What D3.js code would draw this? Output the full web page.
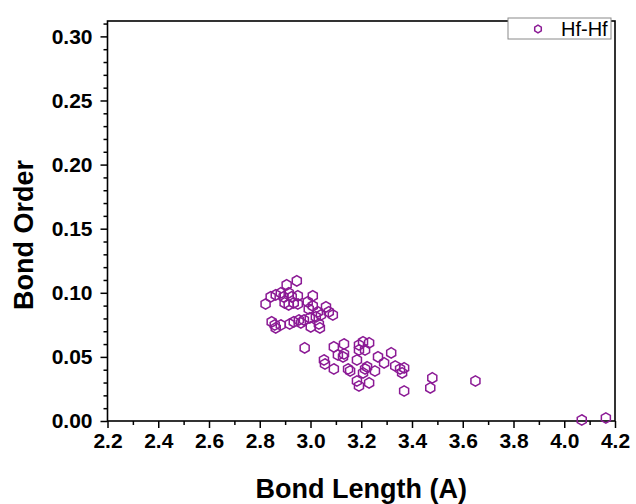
<!DOCTYPE html>
<html>
<head>
<meta charset="utf-8">
<script src="https://cdn.jsdelivr.net/npm/d3@7"></script>
<style>
  html, body { margin: 0; padding: 0; background: #fff; }
  text { font-family: "Liberation Sans", Arial, sans-serif; }
</style>
</head>
<body>
<svg id="chart" width="636" height="504"></svg>
<script>
// Hf-Hf bond lengths (Å) and bond orders
const bondLength = [
  2.946, 2.906, 2.823, 2.843, 2.863, 2.883, 2.894, 2.914, 2.926, 2.950,
  2.898, 2.914, 2.934, 2.950, 3.009, 2.989, 3.009, 2.993, 3.061, 3.072,
  3.088, 3.029, 3.041, 3.021, 2.997, 2.974, 2.954, 2.934, 3.033, 2.847,
  2.859, 2.863, 2.883, 2.918, 3.001, 3.037, 2.962, 2.977, 3.092, 3.132,
  3.108, 3.132, 3.053, 3.057, 3.092, 3.148, 3.156, 3.183, 3.191, 3.207,
  3.231, 3.215, 3.191, 3.266, 3.318, 3.290, 3.334, 3.353, 3.369, 3.361,
  3.215, 3.207, 3.183, 3.191, 3.231, 3.254, 3.369, 3.480, 3.472, 3.650,
  4.069, 4.164, 3.223, 3.128
];
const bondOrder = [
  0.1093, 0.1062, 0.0913, 0.0968, 0.0984, 0.0999, 0.0968, 0.0999, 0.0968, 0.0976,
  0.0921, 0.0906, 0.0921, 0.0913, 0.0976, 0.0929, 0.0898, 0.0874, 0.0890, 0.0851,
  0.0827, 0.0851, 0.0827, 0.0812, 0.0804, 0.0788, 0.0788, 0.0773, 0.0757, 0.0773,
  0.0749, 0.0726, 0.0749, 0.0757, 0.0734, 0.0726, 0.0765, 0.0570, 0.0578, 0.0601,
  0.0515, 0.0523, 0.0476, 0.0445, 0.0406, 0.0406, 0.0390, 0.0476, 0.0593, 0.0617,
  0.0609, 0.0554, 0.0554, 0.0500, 0.0531, 0.0453, 0.0429, 0.0406, 0.0414, 0.0375,
  0.0406, 0.0375, 0.0312, 0.0273, 0.0297, 0.0390, 0.0234, 0.0336, 0.0258, 0.0312,
  0.0008, 0.0023, 0.0422, 0.0500
];
const seriesName = "Hf-Hf";
const xTicks = [2.2, 2.4, 2.6, 2.8, 3.0, 3.2, 3.4, 3.6, 3.8, 4.0, 4.2];
const yTicks = [0.00, 0.05, 0.10, 0.15, 0.20, 0.25, 0.30];

const points = bondLength.map((d, i) => ({ x: d, y: bondOrder[i] }));

const svg = d3.select("#chart");
const plotLeft = 107.5, plotRight = 615, plotTop = 21, plotBottom = 421;
const color = "#8b1a95";

const x = d3.scaleLinear().domain([2.2, 4.2]).range([plotLeft, plotRight]);
const y = d3.scaleLinear().domain([0, 0.312]).range([plotBottom, plotTop]);

// minor ticks
const xMinor = d3.range(2.3, 4.2, 0.2);
const yMinor = d3.range(0, 0.311, 0.01).filter(v => Math.abs(v * 20 - Math.round(v * 20)) > 1e-6);

const gx = svg.append("g").attr("transform", `translate(0,${plotBottom})`);
gx.call(d3.axisBottom(x).tickValues(xTicks).tickFormat(d3.format(".1f")).tickSize(7).tickPadding(5));
gx.append("g").call(d3.axisBottom(x).tickValues(xMinor).tickFormat("").tickSize(4));
gx.selectAll(".domain").remove();

const gy = svg.append("g").attr("transform", `translate(${plotLeft},0)`);
gy.call(d3.axisLeft(y).tickValues(yTicks).tickFormat(d3.format(".2f")).tickSize(7).tickPadding(8));
gy.append("g").call(d3.axisLeft(y).tickValues(yMinor).tickFormat("").tickSize(4));
gy.selectAll(".domain").remove();

svg.selectAll(".tick line").attr("stroke", "#000").attr("stroke-width", 1.5);
svg.selectAll(".tick text")
  .attr("fill", "#000")
  .style("font-size", "21px")
  .style("font-weight", "bold")
  .style("font-family", "'Liberation Sans', Arial, sans-serif");

// frame
svg.append("rect")
  .attr("x", plotLeft).attr("y", plotTop)
  .attr("width", plotRight - plotLeft).attr("height", plotBottom - plotTop)
  .attr("fill", "none").attr("stroke", "#000").attr("stroke-width", 1.6);

// hexagon marker
const hexPath = (r) => {
  const pts = d3.range(6).map(k => {
    const a = Math.PI / 3 * k - Math.PI / 2;
    return [r * Math.cos(a), r * Math.sin(a)];
  });
  return "M" + pts.map(p => p.join(",")).join("L") + "Z";
};

svg.append("g").selectAll("path")
  .data(points)
  .join("path")
  .attr("d", hexPath(5.2))
  .attr("transform", d => `translate(${x(d.x)},${y(d.y)})`)
  .attr("fill", "none")
  .attr("stroke", color)
  .attr("stroke-width", 1.5);

// legend
const lg = svg.append("g");
lg.append("rect")
  .attr("x", 508).attr("y", 18).attr("width", 103).attr("height", 21)
  .attr("fill", "#fff").attr("stroke", "#8a8a8a").attr("stroke-width", 1);
lg.append("path")
  .attr("d", hexPath(3.8))
  .attr("transform", "translate(538,29)")
  .attr("fill", "none").attr("stroke", color).attr("stroke-width", 1.5);
lg.append("text")
  .attr("x", 561).attr("y", 36)
  .style("font-size", "20px")
  .text(seriesName);

// axis titles
svg.append("text")
  .attr("x", (plotLeft + plotRight) / 2).attr("y", 498)
  .attr("text-anchor", "middle")
  .style("font-size", "27px").style("font-weight", "bold")
  .text("Bond Length (A)");

svg.append("text")
  .attr("transform", "translate(33,235) rotate(-90)")
  .attr("text-anchor", "middle")
  .style("font-size", "27px").style("font-weight", "bold")
  .text("Bond Order");
</script>
</body>
</html>
